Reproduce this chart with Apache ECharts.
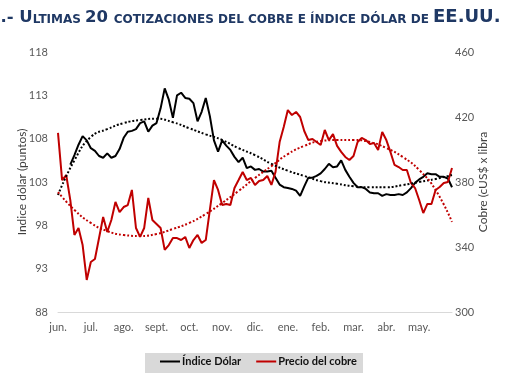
<!DOCTYPE html>
<html>
<head>
<meta charset="utf-8">
<script src="https://cdn.jsdelivr.net/npm/echarts@6/dist/echarts.min.js"></script>
<style>html,body{margin:0;padding:0;background:#fff;}#c{width:510px;height:382px;}</style>
</head>
<body>
<div id="c"></div>
<script>
// Month tick labels (one tick every 8 samples)
const months = ['jun.','jul.','ago.','sept.','oct.','nov.','dic.','ene.','feb.','mar.','abr.','may.'];

// Índice Dólar (left axis, points) — equally spaced samples
const dollarIndex = [null,null,null,105.0,106.1,107.3,108.3,107.8,106.9,106.6,
  106.0,105.8,106.3,105.8,106.0,106.8,108.1,108.8,108.9,109.1,
  109.8,110.0,108.8,109.5,109.8,111.5,113.8,112.5,110.4,113.0,
  113.3,112.7,112.6,112.1,110.0,111.1,112.7,110.6,107.8,106.5,
  107.8,107.2,106.7,105.9,105.3,105.8,104.6,104.8,104.4,104.5,
  104.2,104.2,104.3,103.5,102.7,102.4,102.3,102.2,102.0,101.4,
  102.5,103.5,103.5,103.7,104.0,104.5,105.1,104.7,104.8,105.5,
  104.4,103.6,102.9,102.4,102.4,102.2,101.8,101.7,101.7,101.4,
  101.6,101.5,101.5,101.6,101.5,101.8,102.3,102.9,103.3,103.6,
  104.0,103.9,103.9,103.6,103.6,103.4,102.4];

// Precio del cobre (right axis, cUS$ x libra)
const copperPrice = [410.2,381.2,384.3,368.9,347.4,351.7,341.2,319.7,330.8,332.6,
  345.5,358.5,349.2,356.6,367.7,361.5,364.6,365.8,375.1,351.7,
  346.2,351.7,370.2,356.6,354.2,351.7,338.2,341.2,345.5,345.5,
  344.3,346.2,339.4,344.3,347.4,342.5,344.3,362.8,381.2,375.1,
  365.8,366.5,365.8,376.3,381.2,386.2,381.2,382.5,378.2,380.6,
  381.2,383.7,378.2,386.2,404.6,413.8,424.3,421.2,423.1,420.0,
  411.4,405.8,406.5,404.6,402.8,412.0,405.8,409.5,402.2,398.5,
  395.4,393.5,396.0,404.6,407.1,405.8,403.4,404.0,399.7,410.8,
  405.8,398.5,390.5,389.2,387.4,387.4,379.4,376.3,368.9,360.9,
  366.5,366.5,375.1,376.9,379.4,380.0,388.6];

// Trend lines, one value every 4 samples
const dollarTrend = [101.5,105.5,108.2,109.1,109.8,110.15,110.3,109.9,109.2,108.5,
  107.85,106.9,106.1,105.1,104.3,103.7,103.1,102.8,102.5,102.4,
  102.4,102.65,103.0,103.35,103.8];
const copperTrend = [373.8,362.8,354.8,349.8,347.4,346.8,348.0,351.1,354.8,360.3,
  367.1,374.5,382.5,389.8,397.2,402.2,405.2,405.8,405.8,404.6,
  400.9,395.4,387.4,375.1,355.4];

const STEP = 1, TREND_STEP = 4, PER_MONTH = 8;
const toPairs = (arr, step) => arr.map((v, i) => [i * step, v]);

const chart = echarts.init(document.getElementById('c'), null, {renderer: 'canvas'});
const FONT = 'Lato';
chart.setOption({
  animation: false,
  textStyle: {fontFamily: FONT},
  grid: {left: 58, right: 58, top: 52, bottom: 70},
  graphic: [
    {
      type: 'text', left: -11, top: 8, z: 10,
      style: {
        text: '{b|1.- U}{s|LTIMAS }{b|20 }{s|COTIZACIONES DEL COBRE E ÍNDICE DÓLAR DE }{e|EE.UU.}',
        rich: {
          b: {fontSize: 16.5, fontWeight: 'bold', fontFamily: 'DejaVu Sans', fill: '#1F3864', verticalAlign: 'bottom', lineHeight: 21},
          e: {fontSize: 18, fontWeight: 'bold', fontFamily: 'DejaVu Sans', fill: '#1F3864', verticalAlign: 'bottom', lineHeight: 21},
          s: {fontSize: 12, fontWeight: 'bold', fontFamily: 'DejaVu Sans', fill: '#1F3864', verticalAlign: 'bottom', lineHeight: 21}
        }
      }
    },
    {
      type: 'rect', left: 145, top: 353, z: 0,
      shape: {width: 218, height: 20},
      style: {fill: '#D9D9D9'}
    }
  ],
  legend: {
    left: 160, top: 356, padding: 0, itemGap: 15, itemWidth: 20, itemHeight: 2, icon: 'rect',
    data: ['Índice Dólar', 'Precio del cobre'],
    textStyle: {fontWeight: 'bold', fontSize: 11, color: '#111', fontFamily: FONT, padding: [0, 0, 0, -3]}
  },
  xAxis: {
    type: 'value', min: 0, max: (months.length) * PER_MONTH, interval: PER_MONTH,
    axisLine: {show: true, lineStyle: {color: '#D9D9D9', width: 1}},
    axisTick: {show: false}, splitLine: {show: false},
    axisLabel: {color: '#595959', fontSize: 11, margin: 10,
      formatter: v => months[Math.round(v / PER_MONTH)] || ''}
  },
  yAxis: [
    {
      type: 'value', min: 88, max: 118, interval: 5, position: 'left',
      name: 'Indice dólar (puntos)', nameLocation: 'middle', nameGap: 30, nameRotate: 90,
      nameMoveOverlap: false,
      nameTextStyle: {color: '#404040', fontSize: 12},
      axisLine: {show: false}, axisTick: {show: false}, splitLine: {show: false},
      axisLabel: {color: '#595959', fontSize: 11, margin: 10}
    },
    {
      type: 'value', min: 300, max: 460, interval: 40, position: 'right',
      name: 'Cobre (cUS$ x libra', nameLocation: 'middle', nameGap: 25, nameRotate: 90,
      nameMoveOverlap: false,
      nameTextStyle: {color: '#404040', fontSize: 12},
      axisLine: {show: false}, axisTick: {show: false}, splitLine: {show: false},
      axisLabel: {color: '#595959', fontSize: 11, margin: 3}
    }
  ],
  series: [
    {
      name: 'Índice Dólar', type: 'line', yAxisIndex: 0, data: toPairs(dollarIndex, STEP),
      showSymbol: false, symbol: 'none', lineStyle: {color: '#000', width: 2}, itemStyle: {color: '#000'}, z: 3
    },
    {
      name: 'Precio del cobre', type: 'line', yAxisIndex: 1, data: toPairs(copperPrice, STEP),
      showSymbol: false, symbol: 'none', lineStyle: {color: '#C00000', width: 2}, itemStyle: {color: '#C00000'}, z: 4
    },
    {
      name: 'Tendencia dólar', type: 'line', yAxisIndex: 0, data: toPairs(dollarTrend, TREND_STEP),
      smooth: true, showSymbol: false, symbol: 'none',
      lineStyle: {color: '#000', width: 2, type: [2, 2]}, z: 5
    },
    {
      name: 'Tendencia cobre', type: 'line', yAxisIndex: 1, data: toPairs(copperTrend, TREND_STEP),
      smooth: true, showSymbol: false, symbol: 'none',
      lineStyle: {color: '#C00000', width: 2, type: [2, 2]}, z: 5
    }
  ]
});
</script>
</body>
</html>
